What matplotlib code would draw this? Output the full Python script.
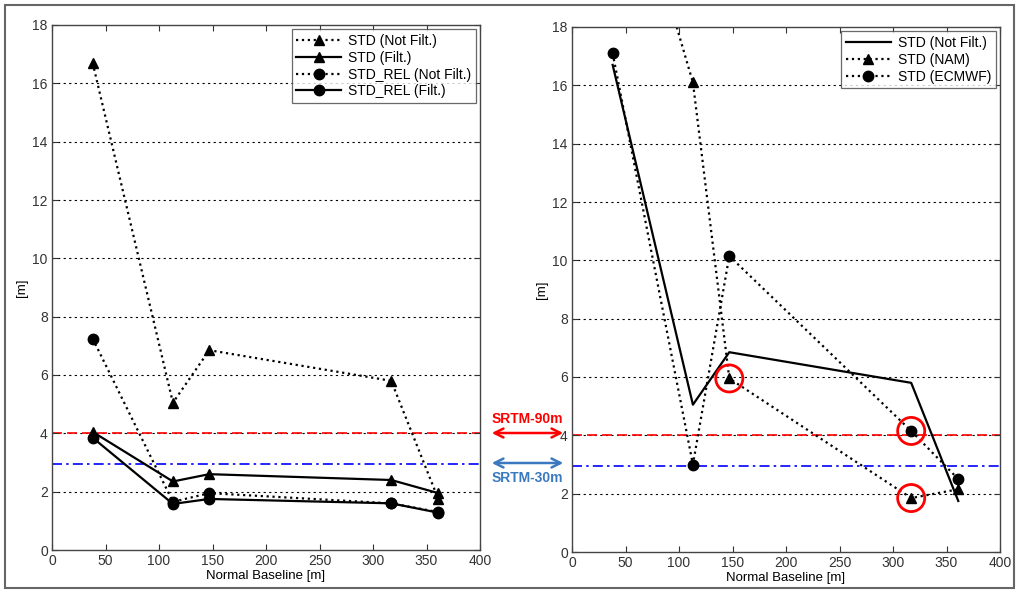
import matplotlib.pyplot as plt
from matplotlib.patches import Rectangle

plt.rcParams['font.family'] = ['Liberation Sans', 'DejaVu Sans']

# data
baseline = [38, 113, 147, 317, 361]
std_notfilt = [16.7, 5.05, 6.85, 5.8, 1.75]
std_filt = [4.05, 2.35, 2.6, 2.4, 1.95]
rel_notfilt = [7.25, 1.65, 1.95, 1.6, 1.3]
rel_filt = [3.85, 1.58, 1.75, 1.6, 1.28]
std_nam = [25.5, 16.1, 5.95, 1.85, 2.15]
std_ecmwf = [17.1, 3.0, 10.15, 4.15, 2.5]

# highlighted points on the right panel
circ_x = [147, 317, 317]
circ_y = [5.95, 4.15, 1.85]

srtm90 = 4.0
srtm30 = 2.95

xticks = [0, 50, 100, 150, 200, 250, 300, 350, 400]
yticks = [0, 2, 4, 6, 8, 10, 12, 14, 16, 18]

W, H = 1019, 592
fig = plt.figure(figsize=(W / 100, H / 100), dpi=100)

ax1 = fig.add_axes([52 / W, 1 - 550 / H, (480 - 52) / W, (550 - 25) / H])
ax2 = fig.add_axes([572 / W, 1 - 552 / H, (1000 - 572) / W, (552 - 27) / H])


def style_axes(ax):
    ax.set_xlim(0, 400)
    ax.set_ylim(0, 18)
    ax.set_xticks(xticks)
    ax.set_yticks(yticks)
    ax.tick_params(direction='in', top=True, right=True, length=4,
                   labelsize=10, colors='#333333', width=0.8, pad=3)
    for s in ax.spines.values():
        s.set_color('#444444')
        s.set_linewidth(1.0)
    for y in yticks[1:-1]:
        ax.axhline(y, color='black', linestyle=(0, (2, 3)), linewidth=0.8, zorder=0)
    ax.axhline(srtm90, color='red', linestyle=(0, (6, 3)), linewidth=1.2, zorder=1)
    ax.axhline(srtm30, color='blue', linestyle=(0, (6, 2.5, 1.5, 2.5)), linewidth=1.2, zorder=1)
    ax.set_xlabel('Normal Baseline [m]', fontsize=9.5, labelpad=1)
    ax.set_ylabel('[m]', fontsize=9.5, labelpad=3)


style_axes(ax1)
style_axes(ax2)

# left panel
ax1.plot(baseline, std_notfilt, ':', color='black', marker='^', ms=7.5, lw=1.6, label='STD (Not Filt.)')
ax1.plot(baseline, std_filt, '-', color='black', marker='^', ms=7.5, lw=1.6, label='STD (Filt.)')
ax1.plot(baseline, rel_notfilt, ':', color='black', marker='o', ms=7.5, lw=1.6, label='STD_REL (Not Filt.)')
ax1.plot(baseline, rel_filt, '-', color='black', marker='o', ms=7.5, lw=1.6, label='STD_REL (Filt.)')
leg1 = ax1.legend(loc='upper right', fontsize=10, frameon=True, fancybox=False,
                  edgecolor='#444444', borderpad=0.35, handlelength=3.2, labelspacing=0.2,
                  handletextpad=0.5, borderaxespad=0.3)
leg1.get_frame().set_linewidth(0.9)

# right panel
ax2.plot(baseline, std_notfilt, '-', color='black', lw=1.6, label='STD (Not Filt.)')
ax2.plot(baseline, std_nam, ':', color='black', marker='^', ms=7.5, lw=1.6, label='STD (NAM)')
ax2.plot(baseline, std_ecmwf, ':', color='black', marker='o', ms=7.5, lw=1.6, label='STD (ECMWF)')
ax2.scatter(circ_x, circ_y, s=380, facecolors='none', edgecolors='red', linewidths=2, zorder=5)
leg2 = ax2.legend(loc='upper right', fontsize=10, frameon=True, fancybox=False,
                  edgecolor='#444444', borderpad=0.35, handlelength=3.2, labelspacing=0.2,
                  handletextpad=0.5, borderaxespad=0.3)
leg2.get_frame().set_linewidth(0.9)

# frame round the whole figure
fig.patches.append(Rectangle((5 / W, 4 / H), 1009 / W, 583 / H, transform=fig.transFigure,
                             fill=False, edgecolor='#666666', linewidth=1.5))

# SRTM markers between the panels
red_y = 1 - 433 / H
blue_y = 1 - 463 / H
plt.annotate('', xy=(489 / W, red_y), xytext=(566 / W, red_y), xycoords='figure fraction',
             arrowprops=dict(arrowstyle='<->', color='red', lw=1.8, mutation_scale=16))
plt.annotate('', xy=(489 / W, blue_y), xytext=(566 / W, blue_y), xycoords='figure fraction',
             arrowprops=dict(arrowstyle='<->', color='#3a78c0', lw=1.8, mutation_scale=16))
fig.text(527 / W, 1 - 419 / H, 'SRTM-90m', color='red', fontsize=10, fontweight='bold',
         ha='center', va='center')
fig.text(527 / W, 1 - 478 / H, 'SRTM-30m', color='#3a78c0', fontsize=10, fontweight='bold',
         ha='center', va='center')

fig.savefig('out.png', dpi=100)
